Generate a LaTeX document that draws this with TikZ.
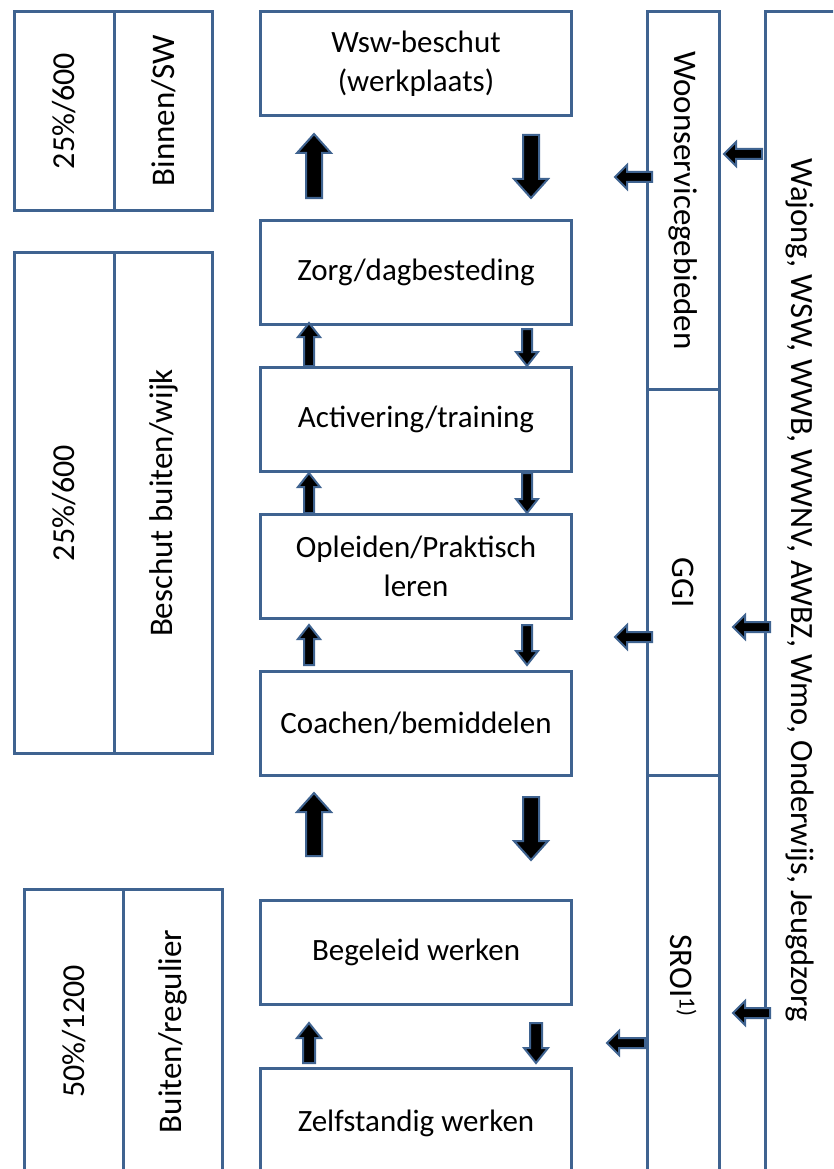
\documentclass[tikz,border=0pt]{standalone}
\usepackage{fontspec}
\setmainfont{Carlito}
\definecolor{ol}{HTML}{3F6390}
\newcommand{\BArr}[7]{% x, y tail, rotation, length, half shaft, half head, head length
  \draw[barrow,shift={(#1,#2)},rotate=#3] (0,-#5) -- ({#4-#7},-#5) -- ({#4-#7},-#6) -- (#4,0) -- ({#4-#7},#6) -- ({#4-#7},#5) -- (0,#5) -- cycle;}
\tikzset{
  box/.style={draw=ol, line width=3pt, fill=white, rectangle, inner sep=0pt, anchor=north west,
    font=\fontsize{31}{39}\selectfont, align=center},
  rbox/.style={box, font=\fontsize{33}{40}\selectfont},
  barrow/.style={draw=ol, fill=black, line width=2pt, line join=miter},
  lbl/.style={font=\fontsize{32.5}{40}\selectfont, inner sep=0pt}
}
\begin{document}
\begin{tikzpicture}[x=1pt,y=1pt]
\useasboundingbox (0,0) rectangle (833,-1169);
\clip (0,0) rectangle (833,-1169);
% left boxes
\node[box, font=\fontsize{32}{40}\selectfont, minimum width=100pt, minimum height=199pt] (l1a) at (13,-10) {\rotatebox{90}{25\%/600}};
\node[rbox, minimum width=98pt, minimum height=199pt] (l1b) at (113,-10) {\rotatebox{90}{Binnen/SW}};
\node[box, font=\fontsize{32}{40}\selectfont, minimum width=100pt, minimum height=501pt] (l2a) at (13,-251) {\rotatebox{90}{25\%/600}};
\node[rbox, minimum width=98pt, minimum height=501pt] (l2b) at (113,-251) {\rotatebox{90}{Beschut buiten/wijk}};
\node[box, font=\fontsize{32}{40}\selectfont, minimum width=99pt, minimum height=284pt] (l3a) at (23,-888) {\rotatebox{90}{50\%/1200}};
\node[rbox, minimum width=99pt, minimum height=284pt] (l3b) at (122,-888) {\rotatebox{90}{Buiten/regulier}};
% centre boxes
\node[box, minimum width=311pt, minimum height=104pt] (wsw) at (259,-10) {Wsw-beschut\\(werkplaats)};
\node[box, minimum width=311pt, minimum height=104pt] (zorg) at (259,-219) {Zorg/dagbesteding};
\node[box, minimum width=311pt, minimum height=104pt] (act) at (259,-366) {Activering/training};
\node[box, minimum width=311pt, minimum height=104pt] (opl) at (259,-513) {Opleiden/Praktisch\\leren};
\node[box, minimum width=311pt, minimum height=104pt] (coach) at (259,-670) {Coachen/bemiddelen};
\node[box, minimum width=311pt, minimum height=104pt] (beg) at (259,-899) {Begeleid werken};
\node[box, minimum width=311pt, minimum height=110pt] (zelf) at (259,-1067) {Zelfstandig werken};
% right columns
\node[rbox, minimum width=72pt, minimum height=378pt] (woon) at (646,-10) {\rotatebox{-90}{Woonservicegebieden}};
\node[rbox, minimum width=72pt, minimum height=386pt] (ggi) at (646,-388) {\rotatebox{-90}{GGI}};
\node[rbox, minimum width=72pt, minimum height=400pt] (sroi) at (646,-774) {\rotatebox{-90}{SROI\textsuperscript{1)}}};
\node[box, minimum width=90pt, minimum height=1175pt] (wet) at (764,-10) {};
\node[lbl, rotate=-90] (wettxt) at (800,-590) {Wajong, WSW, WWB, WWNV, AWBZ, Wmo, Onderwijs, Jeugdzorg};
% vertical block arrows
\BArr{314}{-198}{90}{64}{8}{17}{19}
\BArr{531}{-135}{-90}{63}{8}{17}{19}
\BArr{309}{-366}{90}{43}{5}{11}{14}
\BArr{527}{-329}{-90}{37}{5}{11}{14}
\BArr{309}{-513}{90}{40}{5}{11}{14}
\BArr{527}{-473}{-90}{40}{5}{11}{14}
\BArr{309}{-665}{90}{40}{5}{11}{14}
\BArr{527}{-625}{-90}{40}{5}{11}{14}
\BArr{314}{-856}{90}{63}{8}{17}{19}
\BArr{531}{-797}{-90}{63}{8}{17}{19}
\BArr{309}{-1063}{90}{40}{6}{12}{15}
\BArr{536}{-1023}{-90}{40}{6}{12}{15}
% horizontal block arrows
\BArr{762}{-154}{180}{38}{5}{12}{12}
\BArr{652}{-177}{180}{37}{5}{12}{12}
\BArr{770}{-627}{180}{37}{5}{12}{12}
\BArr{652}{-637}{180}{37}{5}{12}{12}
\BArr{770}{-1013}{180}{37}{5}{12}{12}
\BArr{645}{-1043}{180}{38}{5}{12}{12}
\end{tikzpicture}
\end{document}
